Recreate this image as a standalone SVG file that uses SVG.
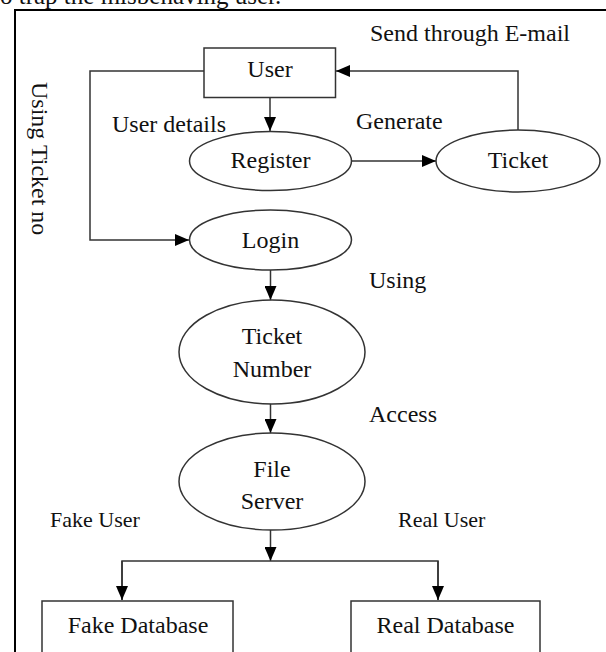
<svg xmlns="http://www.w3.org/2000/svg" width="606" height="652" viewBox="0 0 606 652">
  <style>
    text { font-family: "Liberation Serif", "Times New Roman", serif; font-size: 24px; fill: #111; }
    .lbl { text-anchor: start; }
    .mid { text-anchor: middle; }
    .small { font-size: 22px; }
    .shape { fill: #fff; stroke: #333; stroke-width: 1.5; }
    .edge { fill: none; stroke: #333; stroke-width: 1.5; }
    .frame { fill: none; stroke: #000; stroke-width: 2; }
  </style>
  <defs>
    <marker id="arrow" markerUnits="userSpaceOnUse" markerWidth="14" markerHeight="12" refX="14" refY="6" orient="auto">
      <path d="M0,0 L14,6 L0,12 z" fill="#000"/>
    </marker>
  </defs>

  <rect width="606" height="652" fill="#fff"/>

  <!-- running text above the figure, cut by the page edge -->
  <text class="lbl" x="0" y="4" style="font-size:25px">o trap the misbehaving user.</text>

  <!-- figure frame -->
  <path class="frame" d="M15,660 V10 H620"/>

  <!-- free labels -->
  <g id="labels">
    <text class="lbl" x="370" y="41">Send through E-mail</text>
    <text class="lbl" x="112" y="132">User details</text>
    <text class="lbl" x="356" y="129">Generate</text>
    <text class="lbl" x="369" y="288">Using</text>
    <text class="lbl" x="369" y="422">Access</text>
    <text class="lbl small" x="50" y="527">Fake User</text>
    <text class="lbl small" x="398" y="527">Real User</text>
    <text class="lbl" transform="translate(32,82) rotate(90)">Using Ticket no</text>
  </g>

  <!-- connectors -->
  <g id="connectors">
    <line class="edge" x1="270" y1="98" x2="270" y2="131" marker-end="url(#arrow)"/>
    <line class="edge" x1="352" y1="161" x2="436" y2="161" marker-end="url(#arrow)"/>
    <path class="edge" d="M518,130 V71 H336" marker-end="url(#arrow)"/>
    <path class="edge" d="M204,71 H90 V240 H189" marker-end="url(#arrow)"/>
    <line class="edge" x1="270.5" y1="270" x2="270.5" y2="300" marker-end="url(#arrow)"/>
    <line class="edge" x1="270.5" y1="404" x2="270.5" y2="433" marker-end="url(#arrow)"/>
    <line class="edge" x1="270.5" y1="530" x2="270.5" y2="561" marker-end="url(#arrow)"/>
    <path class="edge" d="M122,600 V561 H438 V600"/>
    <line class="edge" x1="122" y1="561" x2="122" y2="600" marker-end="url(#arrow)"/>
    <line class="edge" x1="438" y1="561" x2="438" y2="600" marker-end="url(#arrow)"/>
  </g>

  <!-- nodes -->
  <g id="user">
    <rect class="shape" x="204" y="48" width="131.5" height="49.5"/>
    <text class="mid" x="270" y="77">User</text>
  </g>
  <g id="register">
    <ellipse class="shape" cx="270.5" cy="161" rx="81" ry="29.5"/>
    <text class="mid" x="270.5" y="168">Register</text>
  </g>
  <g id="ticket">
    <ellipse class="shape" cx="518" cy="161" rx="82" ry="31"/>
    <text class="mid" x="518" y="168">Ticket</text>
  </g>
  <g id="login">
    <ellipse class="shape" cx="270.5" cy="240" rx="81" ry="30"/>
    <text class="mid" x="270.5" y="248">Login</text>
  </g>
  <g id="ticket-number">
    <ellipse class="shape" cx="272" cy="352" rx="93" ry="52"/>
    <text class="mid" x="272" y="344">Ticket</text>
    <text class="mid" x="272" y="377">Number</text>
  </g>
  <g id="file-server">
    <ellipse class="shape" cx="272" cy="481.5" rx="93" ry="48.5"/>
    <text class="mid" x="272" y="477">File</text>
    <text class="mid" x="272" y="509">Server</text>
  </g>
  <g id="fake-database">
    <rect class="shape" x="42" y="601" width="191" height="70"/>
    <text class="mid" x="138" y="633">Fake Database</text>
  </g>
  <g id="real-database">
    <rect class="shape" x="351" y="601" width="189" height="70"/>
    <text class="mid" x="445.5" y="633">Real Database</text>
  </g>
</svg>
